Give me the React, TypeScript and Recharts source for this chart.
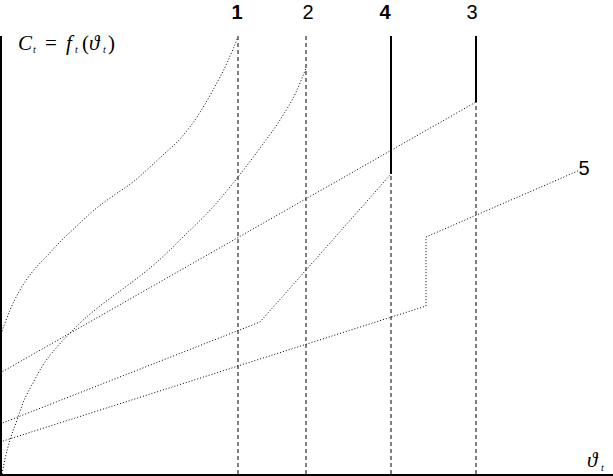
import { ComposedChart, Line, XAxis, YAxis } from "recharts";

// points: x to the right, y up from the bottom axis
const curve1 = [
  { x: 0, y: 138 }, { x: 10, y: 165 }, { x: 20, y: 185 }, { x: 33, y: 204 },
  { x: 47, y: 219 }, { x: 57, y: 230 }, { x: 80, y: 252 }, { x: 93, y: 264 },
  { x: 110, y: 277 }, { x: 133, y: 293 }, { x: 150, y: 308 }, { x: 163, y: 320 },
  { x: 180, y: 336 }, { x: 197, y: 358 }, { x: 213, y: 385 }, { x: 227, y: 412 },
  { x: 238, y: 438 },
];

const curve2 = [
  { x: 2, y: 1 }, { x: 5, y: 16 }, { x: 10, y: 35 }, { x: 17, y: 55 },
  { x: 23, y: 72 }, { x: 33, y: 92 }, { x: 43, y: 110 }, { x: 57, y: 128 },
  { x: 70, y: 142 }, { x: 80, y: 152 }, { x: 100, y: 169 }, { x: 120, y: 184 },
  { x: 140, y: 199 }, { x: 157, y: 213 }, { x: 183, y: 238 }, { x: 213, y: 268 },
  { x: 238, y: 298 }, { x: 263, y: 331 }, { x: 280, y: 355 }, { x: 297, y: 385 },
  { x: 306, y: 407 },
];

const line3 = [{ x: 0, y: 102 }, { x: 476, y: 373 }];
const line4 = [{ x: 0, y: 51 }, { x: 260, y: 153 }, { x: 391, y: 301 }];
const line5 = [{ x: 0, y: 33 }, { x: 426, y: 169 }, { x: 426, y: 238 }, { x: 580, y: 305 }];

const topY = 439;
const dashedGuides = [
  [{ x: 238, y: 1 }, { x: 238, y: topY }],
  [{ x: 306, y: 1 }, { x: 306, y: topY }],
  [{ x: 391, y: 1 }, { x: 391, y: 301 }],
  [{ x: 476, y: 1 }, { x: 476, y: 373 }],
];
const solidGuides = [
  [{ x: 391, y: 301 }, { x: 391, y: topY }],
  [{ x: 476, y: 373 }, { x: 476, y: topY }],
];
const axisLeft = [{ x: 1, y: 0 }, { x: 1, y: topY }];
const axisBottom = [{ x: 0, y: 0 }, { x: 613, y: 0 }];

const curveLabels = [
  { text: "1", x: 237, bold: true },
  { text: "2", x: 308, bold: false },
  { text: "4", x: 385, bold: true },
  { text: "3", x: 472, bold: false },
];

const W = 613;
const H = 476;

export default function App() {
  const base = { stroke: "#000", dot: false, activeDot: false, isAnimationActive: false };
  return (
    <div style={{ position: "absolute", left: 0, top: 0, width: W, height: H, background: "#fff" }}>
      <ComposedChart width={W} height={H} margin={{ top: 0, right: 0, bottom: 0, left: 0 }}>
        <XAxis type="number" dataKey="x" domain={[0, W]} hide allowDataOverflow />
        <YAxis type="number" dataKey="y" domain={[-1, 475]} hide allowDataOverflow />
        <Line data={curve1} dataKey="y" type="monotone" strokeWidth={1} strokeDasharray="1 2" {...base} />
        <Line data={curve2} dataKey="y" type="monotone" strokeWidth={1} strokeDasharray="1 2" {...base} />
        <Line data={line3} dataKey="y" type="linear" strokeWidth={1} strokeDasharray="1 2" {...base} />
        <Line data={line4} dataKey="y" type="linear" strokeWidth={1} strokeDasharray="1 2" {...base} />
        <Line data={line5} dataKey="y" type="linear" strokeWidth={1} strokeDasharray="1 2" {...base} />
        {dashedGuides.map((g, i) => (
          <Line key={"d" + i} data={g} dataKey="y" type="linear" strokeWidth={1} strokeDasharray="4 3" {...base} />
        ))}
        {solidGuides.map((g, i) => (
          <Line key={"s" + i} data={g} dataKey="y" type="linear" strokeWidth={2} {...base} />
        ))}
        <Line data={axisLeft} dataKey="y" type="linear" strokeWidth={2} {...base} />
        <Line data={axisBottom} dataKey="y" type="linear" strokeWidth={2} {...base} />
      </ComposedChart>
      <svg width={W} height={H} style={{ position: "absolute", left: 0, top: 0, pointerEvents: "none" }}>
        <g fontFamily="'Liberation Sans', Arial, sans-serif" fontSize={20} fill="#000" textAnchor="middle">
          {curveLabels.map((l) => (
            <text key={l.text} x={l.x} y={19} fontWeight={l.bold ? "bold" : "normal"}>{l.text}</text>
          ))}
          <text x={584} y={175}>5</text>
        </g>
        <g fontFamily="'Liberation Serif', 'DejaVu Serif', serif" fill="#000">
          <text x={18} y={50} fontSize={21} fontStyle="italic">C</text>
          <text x={33} y={53} fontSize={10} fontStyle="italic">t</text>
          <text x={45} y={50} fontSize={21}>=</text>
          <text x={66} y={50} fontSize={21} fontStyle="italic">f</text>
          <text x={75} y={53} fontSize={10} fontStyle="italic">t</text>
          <text x={82} y={50} fontSize={21}>(</text>
          <text x={89} y={50} fontSize={21} fontStyle="italic">ϑ</text>
          <text x={103} y={53} fontSize={10} fontStyle="italic">t</text>
          <text x={108} y={50} fontSize={21}>)</text>
          <text x={587} y={467} fontSize={21} fontStyle="italic">ϑ</text>
          <text x={601} y={471} fontSize={10} fontStyle="italic">t</text>
        </g>
      </svg>
    </div>
  );
}
